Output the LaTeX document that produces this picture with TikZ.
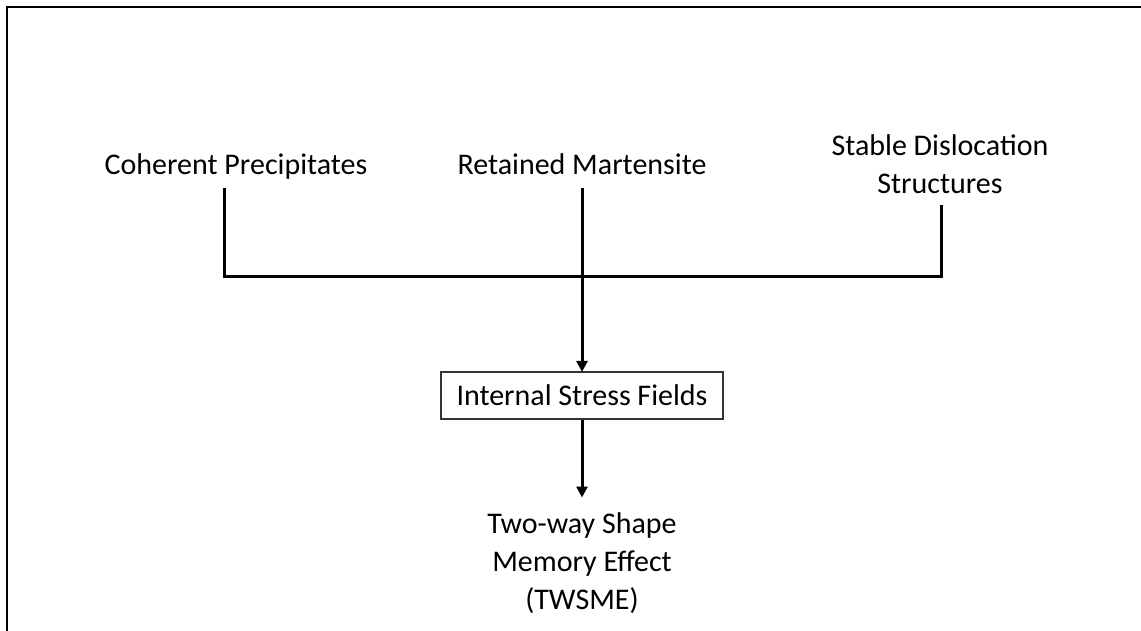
\documentclass[tikz,border=0pt]{standalone}
\usepackage{fontspec}
\setmainfont{Carlito}
\usetikzlibrary{arrows.meta}
\begin{document}
\begin{tikzpicture}[x=1pt,y=-1pt,
  lbl/.style={font=\fontsize{30}{38}\selectfont, align=center, inner sep=0pt},
  stressbox/.style={draw=black!80, line width=1.3pt, minimum width=282pt,
    minimum height=47pt, inner sep=0pt, font=\fontsize{30}{37}\selectfont},
  conn/.style={line width=3pt, black},
  arr/.style={conn, -{Triangle[width=11pt,length=11pt]}, shorten >=-0.5pt}]
  \useasboundingbox (0,0) rectangle (1141,631);
  % open frame: top and left edges
  \draw[line width=2.3pt] (6.7,631) -- (6.7,6.7) -- (1141,6.7);

  % sources
  \node[lbl, anchor=base] (cp) at (236,175) {Coherent Precipitates};
  \node[lbl, anchor=base] (rm) at (582,175) {Retained Martensite};
  \node[lbl] (sd) at (940,164) {Stable Dislocation\\Structures};

  % collecting bus
  \coordinate (jl) at (224,277);
  \coordinate (jr) at (941,277);
  \coordinate (cpl) at (224,188);
  \coordinate (sdr) at (941,205);

  % middle box and result
  \node[stressbox] (isf) at (582,395.5) {Internal Stress Fields};
  \node[lbl] (tw) at (582,563) {Two-way Shape\\Memory Effect\\(TWSME)};

  \draw[conn] (cpl) -- (jl) -- (jr) -- (sdr);
  \draw[arr] (rm.south |- cpl) -- (isf.north);
  \draw[arr] (isf.south) -- (582,497);
\end{tikzpicture}
\end{document}
